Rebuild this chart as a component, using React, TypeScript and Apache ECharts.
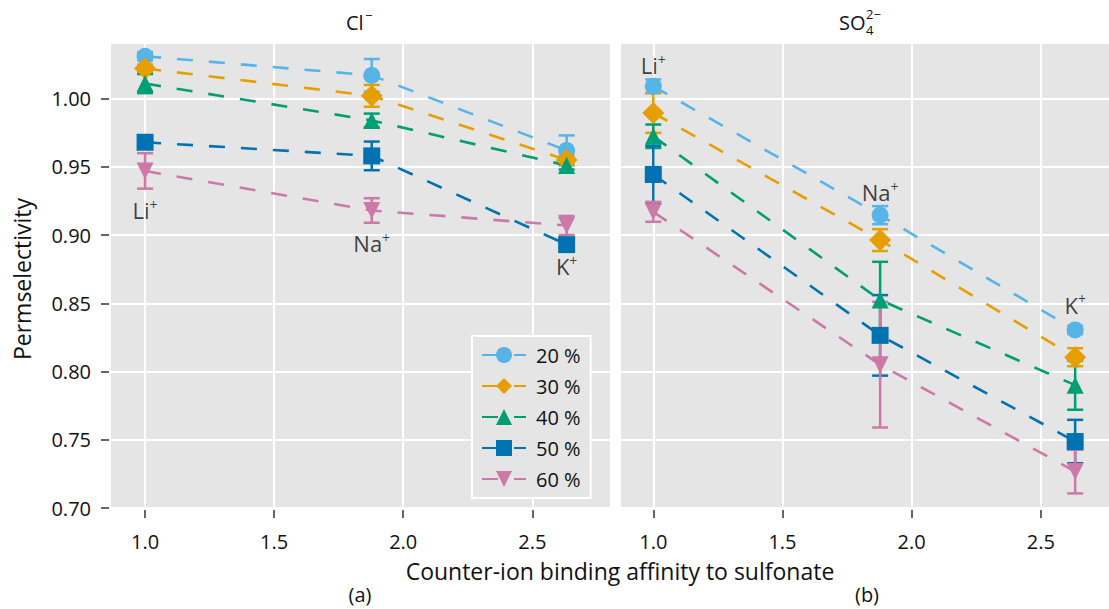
import React, { useEffect, useRef } from 'react';
import * as echarts from 'echarts';

const FONT = "'Open Sans', 'Noto Sans', sans-serif";
const TEXT = '#111111';

// Groups (legend)
const groupNames = ['20 %', '30 %', '40 %', '50 %', '60 %'];
const groupColors = ['#56B4E9', '#E69F00', '#009E73', '#0072B2', '#CC79A7'];
const groupSymbols = ['circle', 'diamond', 'triangle', 'rect', 'triangle'];
const groupSymbolRotate = [0, 0, 0, 0, 180];
const groupSymbolSize = [17, 22, 17, 17, 17];

// Counter-ions and their binding affinity (x)
const ions = ['Li', 'Na', 'K'];
const bindingAffinity = [1.0, 1.878, 2.633];

// (a) Cl- panel: permselectivity and error per group (rows) and ion (cols)
const clValues = [
  [1.031, 1.017, 0.962],
  [1.022, 1.002, 0.955],
  [1.011, 0.984, 0.951],
  [0.968, 0.958, 0.893],
  [0.947, 0.918, 0.907],
];
const clErrors = [
  [0.003, 0.012, 0.011],
  [0.003, 0.008, 0.003],
  [0.007, 0.005, 0.003],
  [0.002, 0.0105, 0.002],
  [0.013, 0.009, 0.007],
];

// (b) SO4 2- panel
const so4Values = [
  [1.009, 0.9146, 0.8305],
  [0.9895, 0.8963, 0.8105],
  [0.9724, 0.8524, 0.79],
  [0.9444, 0.8265, 0.7487],
  [0.917, 0.805, 0.7267],
];
const so4Errors = [
  [0.005, 0.0066, 0.003],
  [0.0146, 0.008, 0.0066],
  [0.0086, 0.028, 0.018],
  [0.021, 0.0295, 0.0159],
  [0.0073, 0.046, 0.016],
];

// Ion annotation heights (data units)
const clIonLabelY = [0.918, 0.894, 0.877];
const so4IonLabelY = [1.0244, 0.9314, 0.8488];

// Axis ticks
const yTicks = [0.7, 0.75, 0.8, 0.85, 0.9, 0.95, 1.0];
const xTicks = [1.0, 1.5, 2.0, 2.5];
const yRange = [0.7, 1.04];
const xRanges = [
  [0.868, 2.801],
  [0.875, 2.764],
];

function buildOption() {
  const panels = [
    { values: clValues, errors: clErrors, labelY: clIonLabelY },
    { values: so4Values, errors: so4Errors, labelY: so4IonLabelY },
  ];

  const grids = [
    { left: 111, top: 44, width: 499, height: 464 },
    { left: 621, top: 44, width: 488, height: 464 },
  ].map((g) => ({
    ...g,
    show: true,
    backgroundColor: '#e5e5e5',
    borderWidth: 0,
    containLabel: false,
  }));

  const xAxes = [0, 1].map((i) => ({
    type: 'value',
    gridIndex: i,
    min: xRanges[i][0],
    max: xRanges[i][1],
    offset: 2,
    axisLine: { show: false },
    axisTick: {
      show: true,
      length: 8,
      customValues: xTicks,
      lineStyle: { color: '#333', width: 1.5 },
    },
    axisLabel: {
      show: true,
      customValues: xTicks,
      margin: 21,
      fontSize: 20,
      fontFamily: FONT,
      color: TEXT,
      formatter: (v: number) => v.toFixed(1),
    },
    splitLine: { show: true, lineStyle: { color: '#ffffff', width: 2 } },
  }));

  const yAxes = [0, 1].map((i) => ({
    type: 'value',
    gridIndex: i,
    min: yRange[0],
    max: yRange[1],
    offset: 2,
    axisLine: { show: false },
    axisTick: {
      show: i === 0,
      length: 8,
      customValues: yTicks,
      lineStyle: { color: '#333', width: 1.5 },
    },
    axisLabel: {
      show: i === 0,
      customValues: yTicks,
      margin: 18,
      fontSize: 20,
      fontFamily: FONT,
      color: TEXT,
      formatter: (v: number) => v.toFixed(2),
    },
    splitLine: { show: true, lineStyle: { color: '#ffffff', width: 2 } },
  }));

  const series: any[] = [];
  panels.forEach((panel, p) => {
    groupNames.forEach((name, g) => {
      const color = groupColors[g];
      series.push({
        type: 'custom',
        name: name + ' err',
        xAxisIndex: p,
        yAxisIndex: p,
        z: 2,
        silent: true,
        encode: { x: 0, y: 1 },
        data: bindingAffinity.map((x, k) => [x, panel.values[g][k], panel.errors[g][k]]),
        renderItem: (params: any, api: any) => {
          const x = api.value(0);
          const y = api.value(1);
          const e = api.value(2);
          const hi = api.coord([x, y + e]);
          const lo = api.coord([x, y - e]);
          const hw = 8;
          const style = { stroke: color, lineWidth: 2.5, fill: null };
          return {
            type: 'group',
            children: [
              { type: 'line', shape: { x1: hi[0], y1: hi[1], x2: lo[0], y2: lo[1] }, style },
              { type: 'line', shape: { x1: hi[0] - hw, y1: hi[1], x2: hi[0] + hw, y2: hi[1] }, style },
              { type: 'line', shape: { x1: lo[0] - hw, y1: lo[1], x2: lo[0] + hw, y2: lo[1] }, style },
            ],
          };
        },
      });
    });
    groupNames.forEach((name, g) => {
      const color = groupColors[g];
      series.push({
        type: 'line',
        name,
        xAxisIndex: p,
        yAxisIndex: p,
        z: 3,
        data: bindingAffinity.map((x, k) => [x, panel.values[g][k]]),
        symbol: groupSymbols[g],
        symbolSize: groupSymbolSize[g],
        symbolRotate: groupSymbolRotate[g],
        showAllSymbol: true,
        itemStyle: { color, borderWidth: 0 },
        lineStyle: { color, width: 2.6, type: [16, 16] },
        emphasis: { disabled: true },
      });
    });
    series.push({
      type: 'scatter',
      name: 'ions' + p,
      xAxisIndex: p,
      yAxisIndex: p,
      z: 5,
      silent: true,
      symbolSize: 1,
      itemStyle: { color: 'rgba(0,0,0,0)' },
      data: bindingAffinity.map((x, k) => ({ value: [x, panel.labelY[k]], name: ions[k] })),
      label: {
        show: true,
        position: 'inside',
        formatter: (d: any) => `{m|${d.name}}{s|+}`,
        rich: {
          m: { fontSize: 22, fontFamily: FONT, color: TEXT, lineHeight: 26 },
          s: { fontSize: 14, fontFamily: FONT, color: TEXT, verticalAlign: 'top', lineHeight: 14 },
        },
      },
    });
  });

  const graphic = [
    { type: 'text', x: 346, y: 22, style: { text: 'Cl', font: `20px ${FONT}`, fill: TEXT, textVerticalAlign: 'middle', textAlign: 'left' } },
    { type: 'text', x: 365, y: 15, style: { text: '−', font: `13px ${FONT}`, fill: TEXT, textVerticalAlign: 'middle', textAlign: 'left' } },
    { type: 'text', x: 839, y: 22, style: { text: 'SO', font: `20px ${FONT}`, fill: TEXT, textVerticalAlign: 'middle', textAlign: 'left' } },
    { type: 'text', x: 866, y: 14, style: { text: '2−', font: `13px ${FONT}`, fill: TEXT, textVerticalAlign: 'middle', textAlign: 'left' } },
    { type: 'text', x: 866, y: 30, style: { text: '4', font: `13px ${FONT}`, fill: TEXT, textVerticalAlign: 'middle', textAlign: 'left' } },
    { type: 'text', x: 620, y: 571, style: { text: 'Counter-ion binding affinity to sulfonate', font: `23px ${FONT}`, fill: TEXT, textVerticalAlign: 'middle', textAlign: 'center' } },
    { type: 'text', x: 360, y: 594, style: { text: '(a)', font: `20px ${FONT}`, fill: TEXT, textVerticalAlign: 'middle', textAlign: 'center' } },
    { type: 'text', x: 867, y: 594, style: { text: '(b)', font: `20px ${FONT}`, fill: TEXT, textVerticalAlign: 'middle', textAlign: 'center' } },
    { type: 'text', x: 22, y: 279, rotation: Math.PI / 2, style: { text: 'Permselectivity', font: `23px ${FONT}`, fill: TEXT, textVerticalAlign: 'middle', textAlign: 'center' } },
  ];

  return {
    animation: false,
    backgroundColor: '#ffffff',
    textStyle: { fontFamily: FONT },
    grid: grids,
    xAxis: xAxes,
    yAxis: yAxes,
    legend: {
      show: true,
      orient: 'vertical',
      left: 472,
      top: 336,
      data: groupNames,
      itemWidth: 44,
      itemHeight: 20,
      itemGap: 11,
      padding: [9, 10, 9, 9],
      backgroundColor: '#e5e5e5',
      borderColor: '#ffffff',
      borderWidth: 2,
      selectedMode: false,
      textStyle: { fontSize: 20, fontFamily: FONT, color: TEXT, padding: [0, 0, 0, 5] },
    },
    graphic,
    series,
  };
}

export default function App() {
  const ref = useRef<HTMLDivElement>(null);
  useEffect(() => {
    if (!ref.current) return;
    const chart = echarts.init(ref.current, null, { renderer: 'svg' });
    chart.setOption(buildOption() as any);
    return () => chart.dispose();
  }, []);
  return (
    <div
      ref={ref}
      style={{ position: 'absolute', left: 0, top: 0, width: 1109, height: 609 }}
    />
  );
}
